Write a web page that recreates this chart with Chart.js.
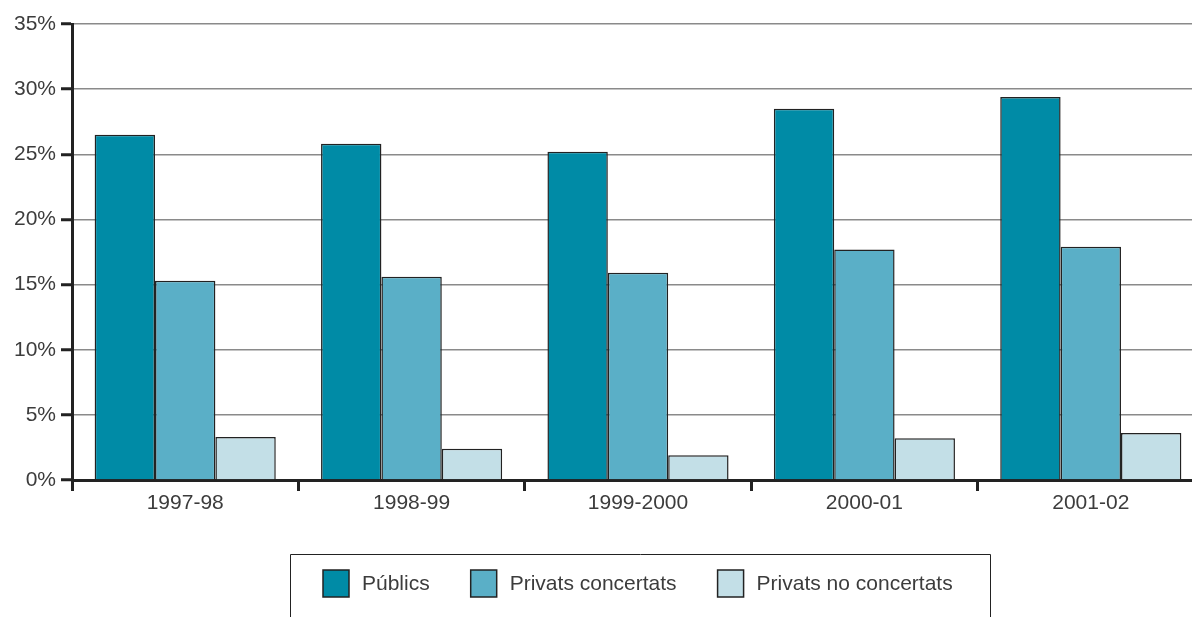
<!DOCTYPE html>
<html lang="ca">
<head>
  <meta charset="UTF-8" />
  <title>Centres per titularitat</title>
  <script src="https://cdn.jsdelivr.net/npm/chart.js"></script>
  <style>
    html, body { margin: 0; padding: 0; background: #fff; }
    #wrap { width: 1192px; height: 617px; position: relative; overflow: hidden; }
  </style>
</head>
<body>
  <div id="wrap"><canvas id="barChart" width="1204" height="617"></canvas></div>

  <script>
    const years = ['1997-98', '1998-99', '1999-2000', '2000-01', '2001-02'];
    const publics = [26.5, 25.8, 25.2, 28.5, 29.4];
    const concertats = [15.3, 15.6, 15.9, 17.7, 17.9];
    const noConcertats = [3.3, 2.4, 1.9, 3.2, 3.6];
    const yTicks = [0, 5, 10, 15, 20, 25, 30, 35];

    const FONT = '"Liberation Sans", Arial, sans-serif';
    const TEXT = '#3c3c3c';

    // legend drawn inside a framed box under the chart
    const boxLegend = {
      id: 'boxLegend',
      afterDraw(chart) {
        const ctx = chart.ctx;
        ctx.save();
        ctx.strokeStyle = '#222';
        ctx.lineWidth = 1;
        ctx.beginPath();
        ctx.moveTo(290.5, 640);
        ctx.lineTo(290.5, 554.5);
        ctx.lineTo(990.5, 554.5);
        ctx.lineTo(990.5, 640);
        ctx.stroke();

        ctx.font = '21px ' + FONT;
        ctx.textBaseline = 'middle';
        let x = 323;
        const y = 570;
        chart.data.datasets.forEach(ds => {
          ctx.fillStyle = ds.backgroundColor;
          ctx.fillRect(x, y, 26, 27);
          ctx.strokeStyle = '#222';
          ctx.lineWidth = 1.5;
          ctx.strokeRect(x, y, 26, 27);
          ctx.fillStyle = TEXT;
          ctx.fillText(ds.label, x + 39, y + 14);
          x += 39 + ctx.measureText(ds.label).width + 41;
        });
        ctx.restore();
      }
    };

    const ctx = document.getElementById('barChart').getContext('2d');
    new Chart(ctx, {
      type: 'bar',
      data: {
        labels: years,
        datasets: [
          { label: 'Públics', data: publics, backgroundColor: '#008ba6' },
          { label: 'Privats concertats', data: concertats, backgroundColor: '#5aafc7' },
          { label: 'Privats no concertats', data: noConcertats, backgroundColor: '#c3dfe7' }
        ].map(d => Object.assign(d, {
          borderColor: '#222',
          borderWidth: 1.5,
          categoryPercentage: 0.8,
          barPercentage: 1
        }))
      },
      options: {
        responsive: false,
        animation: false,
        layout: { padding: { top: 24, left: 0, right: 0, bottom: 0 } },
        plugins: {
          legend: { display: false },
          tooltip: { enabled: false }
        },
        scales: {
          x: {
            afterFit: s => { s.height = 137; },
            grid: {
              offset: true,
              drawOnChartArea: false,
              drawTicks: true,
              tickLength: 11,
              tickWidth: 3,
              tickColor: '#222'
            },
            border: { color: '#222', width: 3 },
            ticks: { color: TEXT, font: { family: FONT, size: 21 }, padding: 0 }
          },
          y: {
            min: 0,
            max: 35,
            afterFit: s => { s.width = 72; },
            afterBuildTicks: s => { s.ticks = yTicks.map(v => ({ value: v })); },
            grid: {
              color: '#8a8a8a',
              lineWidth: 1.5,
              tickLength: 11,
              tickWidth: 3,
              tickColor: '#222'
            },
            border: { color: '#222', width: 3 },
            ticks: {
              color: TEXT,
              font: { family: FONT, size: 21 },
              padding: 5,
              callback: v => v + '%'
            }
          }
        }
      },
      plugins: [boxLegend]
    });
  </script>
</body>
</html>
